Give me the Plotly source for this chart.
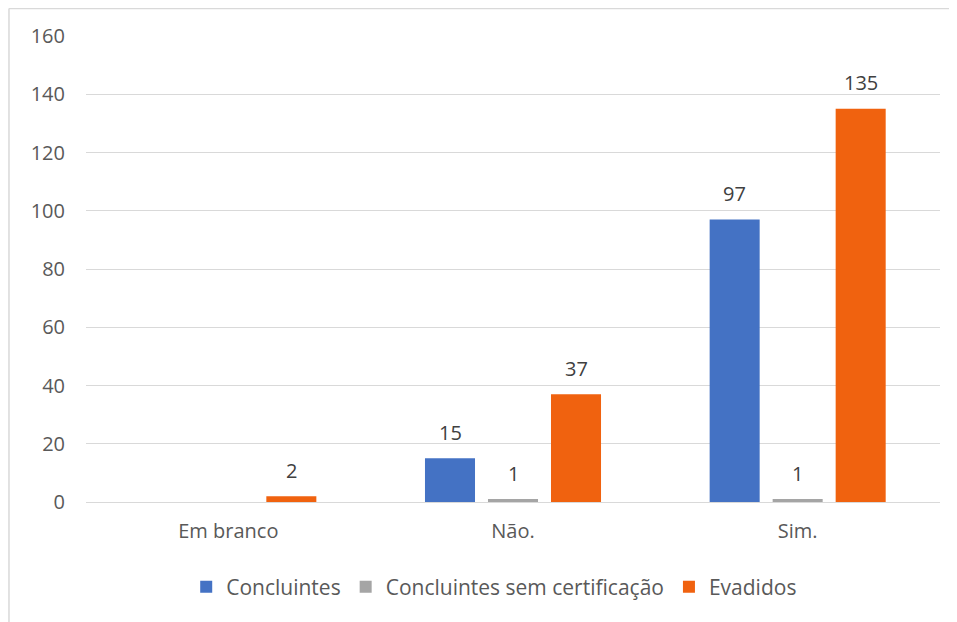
import plotly.graph_objects as go

categories = ["Em branco", "Não.", "Sim."]
concluintes = [None, 15, 97]
sem_cert = [None, 1, 1]
evadidos = [2, 37, 135]
series_names = ["Concluintes", "Concluintes sem certificação", "Evadidos"]
colors = ["#4472C4", "#A5A5A5", "#F0620F"]
y_ticks = [0, 20, 40, 60, 80, 100, 120, 140, 160]

FONT = "Open Sans"
FS = 20
fig = go.Figure()
all_series = [concluintes, sem_cert, evadidos]
for name, vals, col in zip(series_names, all_series, colors):
    fig.add_trace(go.Bar(x=categories, y=vals, name=name, marker_color=col,
                         marker_line_width=0))

annotations = []
shifts = [-63, 0, 63]
for vals, sh in zip(all_series, shifts):
    for c, v in zip(categories, vals):
        if v is None:
            continue
        annotations.append(dict(x=c, y=v, xref="x", yref="y", text=str(v),
                                showarrow=False, xshift=sh, yshift=26,
                                yanchor="middle",
                                font=dict(family=FONT, size=FS, color="#404040")))

fig.update_layout(
    width=957, height=622,
    margin=dict(l=78, r=25, t=28, b=128),
    paper_bgcolor="white", plot_bgcolor="white",
    barmode="group", bargap=0.336, bargroupgap=0.206,
    font=dict(family=FONT, size=FS, color="#595959"),
    showlegend=True,
    legend=dict(orientation="h", x=0.478, xanchor="center", y=-0.1824, yanchor="middle",
                font=dict(family=FONT, size=21, color="#595959"),
                itemwidth=30, tracegroupgap=0),
    annotations=annotations,
    shapes=[
        dict(type="line", xref="paper", yref="paper", x0=-0.0902, x1=-0.0902,
             y0=-0.2747, y1=1.059, line=dict(color="#D9D9D9", width=1.5)),
        dict(type="line", xref="paper", yref="paper", x0=-0.0902, x1=1.03,
             y0=1.059, y1=1.059, line=dict(color="#D9D9D9", width=1.5)),
    ],
)
fig.update_yaxes(range=[0, 160], tickvals=y_ticks, showgrid=True, gridcolor="#D9D9D9",
                 gridwidth=1, zeroline=True, zerolinecolor="#D9D9D9", zerolinewidth=1,
                 showline=False, ticks="", ticklabelstandoff=20,
                 tickfont=dict(family=FONT, size=FS, color="#595959"))
fig.update_xaxes(showgrid=False, showline=False, ticks="", ticklabelstandoff=15,
                 tickfont=dict(family=FONT, size=FS, color="#595959"))

fig.write_html("out.html")
